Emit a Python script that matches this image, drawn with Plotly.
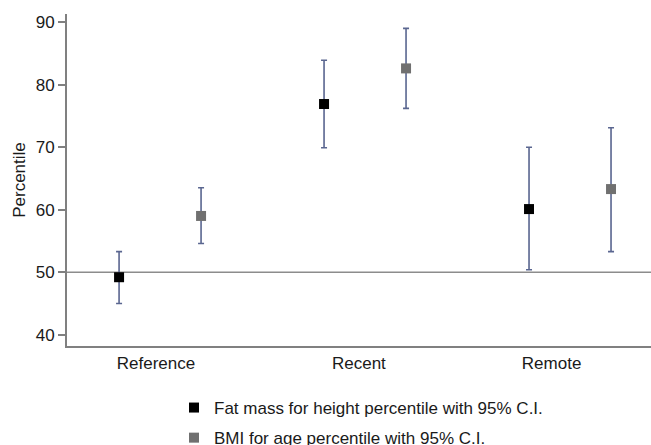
import plotly.graph_objects as go

categories = ["Reference", "Recent", "Remote"]
fat_mass = [49.2, 76.9, 60.1]
fat_lo = [45.0, 69.9, 50.4]
fat_hi = [53.3, 83.9, 70.0]
bmi = [59.0, 82.6, 63.3]
bmi_lo = [54.6, 76.2, 53.3]
bmi_hi = [63.5, 89.0, 73.1]
y_ticks = [40, 50, 60, 70, 80, 90]

idx = list(range(1, len(categories) + 1))
fat_x = [i for i in idx]
bmi_x = [i + 0.4 for i in idx]
label_x = [1.18, 2.17, 3.11]

ebar = "#5a6690"
font = "Liberation Sans, Arial, Helvetica, sans-serif"

fig = go.Figure()
fig.add_trace(go.Scatter(
    x=fat_x, y=fat_mass, mode="markers",
    name="Fat mass for height percentile with 95% C.I.",
    legendgroup="a",
    marker=dict(symbol="square", size=10, color="#000000"),
    error_y=dict(type="data", symmetric=False,
                 array=[h - v for h, v in zip(fat_hi, fat_mass)],
                 arrayminus=[v - l for v, l in zip(fat_mass, fat_lo)],
                 color=ebar, thickness=1.6, width=3),
))
fig.add_trace(go.Scatter(
    x=bmi_x, y=bmi, mode="markers",
    name="BMI for age percentile with 95% C.I.",
    legendgroup="b",
    marker=dict(symbol="square", size=10, color="#707070"),
    error_y=dict(type="data", symmetric=False,
                 array=[h - v for h, v in zip(bmi_hi, bmi)],
                 arrayminus=[v - l for v, l in zip(bmi, bmi_lo)],
                 color=ebar, thickness=1.6, width=3),
))

fig.add_shape(type="line", xref="paper", x0=0, x1=1, yref="y", y0=50, y1=50,
              line=dict(color="#8c8c8c", width=1.5), layer="below")

fig.update_layout(
    width=651, height=470,
    margin=dict(l=67, r=0, t=14, b=124),
    paper_bgcolor="white", plot_bgcolor="white",
    font=dict(family=font, size=17, color="#1a1a1a"),
    xaxis=dict(range=[0.746, 3.595], tickvals=label_x, ticktext=categories,
               showgrid=False, zeroline=False, showline=True,
               linecolor="#808080", linewidth=2, ticks="", ticklabelstandoff=1),
    yaxis=dict(range=[38.2, 91.3], tickvals=y_ticks, showgrid=False,
               zeroline=False, showline=True, linecolor="#808080", linewidth=2,
               ticks="outside", ticklen=7, tickwidth=1.5, tickcolor="#808080",
               title=dict(text="Percentile", font=dict(size=17), standoff=6)),
    legend=dict(x=(174 - 67) / 584, y=(346 - 390) / 332,
                xanchor="left", yanchor="top",
                font=dict(size=17), tracegroupgap=5, bgcolor="rgba(0,0,0,0)"),
    showlegend=True,
)

fig.write_html(
    "out.html",
    config={"displayModeBar": False},
    post_script="document.body.style.margin='0';document.body.style.overflow='hidden';",
)
